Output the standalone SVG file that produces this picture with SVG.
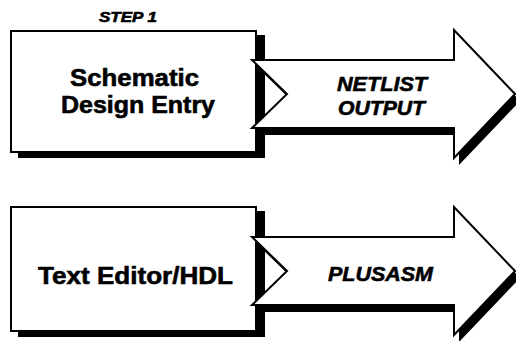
<svg xmlns="http://www.w3.org/2000/svg" width="516" height="341" viewBox="0 0 516 341">
<style>
.box{fill:#fff;stroke:#000;stroke-width:2}
.shadow{fill:#000}
.arrow{fill:#fff;stroke:#000;stroke-width:2;stroke-linejoin:miter}
.t{font-family:"Liberation Sans",Arial,Helvetica,sans-serif;font-weight:bold;fill:#000;stroke:#000;stroke-width:0.6}
.i{font-family:"Liberation Sans",Arial,Helvetica,sans-serif;font-weight:bold;font-style:italic;fill:#000;stroke:#000;stroke-width:0.6}
</style>
<defs>
<polygon id="arr" points="252,60 454,60 454,30 515,94 454,158 454,128 252,128 287,94"/>
</defs>
<rect width="516" height="341" fill="#fff"/>
<text class="i" x="99" y="22" font-size="14.5" textLength="58" lengthAdjust="spacingAndGlyphs">STEP 1</text>
<g id="schematic">
<rect class="shadow" x="18" y="35" width="247" height="123"/>
<rect class="box" x="11" y="31" width="245" height="121"/>
<text class="t" x="70" y="86" font-size="24" textLength="129" lengthAdjust="spacingAndGlyphs">Schematic</text>
<text class="t" x="61" y="113" font-size="24" textLength="154" lengthAdjust="spacingAndGlyphs">Design Entry</text>
</g>
<g id="texteditor">
<rect class="shadow" x="18" y="211" width="247" height="126"/>
<rect class="box" x="11" y="207" width="245" height="124"/>
<text class="t" x="38" y="284" font-size="24.5" textLength="195" lengthAdjust="spacingAndGlyphs">Text Editor/HDL</text>
</g>
<g id="connectors">
<use href="#arr" class="shadow" transform="translate(5,7)"/>
<use href="#arr" class="arrow"/>
<use href="#arr" class="shadow" transform="translate(5,184)"/>
<use href="#arr" class="arrow" transform="translate(0,177)"/>
<text class="i" x="337" y="91" font-size="21" textLength="90" lengthAdjust="spacingAndGlyphs">NETLIST</text>
<text class="i" x="338" y="115" font-size="21" textLength="87" lengthAdjust="spacingAndGlyphs">OUTPUT</text>
<text class="i" x="328" y="281" font-size="21" textLength="105" lengthAdjust="spacingAndGlyphs">PLUSASM</text>
</g>
</svg>
